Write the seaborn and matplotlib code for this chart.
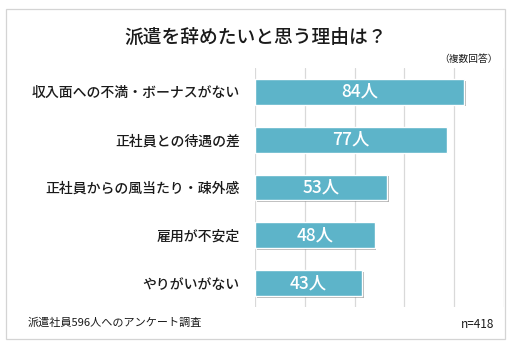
import matplotlib
matplotlib.use("Agg")
import matplotlib.pyplot as plt
import matplotlib.patheffects as pe
from matplotlib.patches import Rectangle
import seaborn as sns
import pandas as pd

reasons = [
    "収入面への不満・ボーナスがない",
    "正社員との待遇の差",
    "正社員からの風当たり・疎外感",
    "雇用が不安定",
    "やりがいがない",
]
counts = [84, 77, 53, 48, 43]
value_labels = [f"{c}人" for c in counts]

sns.set_theme(style="white")
plt.rcParams["font.family"] = ["Noto Sans CJK JP", "DejaVu Sans"]

df = pd.DataFrame({"reason": reasons, "count": counts})

fig = plt.figure(figsize=(5.12, 3.46), dpi=100)
ax = fig.add_axes([255 / 512, 1 - 307 / 346, (504 - 255) / 512, (307 - 68) / 346])

sns.barplot(data=df, x="count", y="reason", color="#5db4c9", width=0.54,
            saturation=1, ax=ax, zorder=3)
for patch in ax.patches:
    patch.set_path_effects([
        pe.SimplePatchShadow(offset=(1.2, -1.2), shadow_rgbFace="#555555", alpha=0.45),
        pe.Normal(),
    ])

ax.set_xlim(0, 100)
ax.set_xticks([0, 20, 40, 60, 80, 100])
ax.set_xticklabels([])
ax.tick_params(axis="both", length=0)
ax.grid(axis="x", color="#d9d9d9", linewidth=0.9, zorder=0)
ax.set_axisbelow(True)
for s in ax.spines.values():
    s.set_visible(False)
ax.set_xlabel("")
ax.set_ylabel("")
ax.tick_params(axis="y", pad=11, labelsize=10, labelcolor="#1a1a1a")
for t in ax.get_yticklabels():
    t.set_fontweight("medium")

for i, (c, lab) in enumerate(zip(counts, value_labels)):
    ax.text(c / 2, i, lab, ha="center", va="center", color="white",
            fontsize=12.5, fontweight="medium", zorder=5)

# outer frame
fig.patches.append(Rectangle((6 / 512, 1 - 339 / 346), (505 - 6) / 512, (339 - 9) / 346,
                             transform=fig.transFigure, fill=False,
                             edgecolor="#d4d4d4", linewidth=0.9))

fig.text(0.5, 1 - 37 / 346, "派遣を辞めたいと思う理由は？", ha="center", va="center",
         fontsize=13.5, fontweight="medium", color="#1a1a1a")
fig.text(498 / 512, 1 - 59 / 346, "（複数回答）", ha="right", va="center",
         fontsize=7, color="#1a1a1a")
fig.text(28 / 512, 1 - 323 / 346, "派遣社員596人へのアンケート調査", ha="left", va="center",
         fontsize=8, color="#1a1a1a")
fig.text(494 / 512, 1 - 325 / 346, "n=418", ha="right", va="center",
         fontsize=8.5, color="#1a1a1a")

fig.savefig("out.png", dpi=100)
